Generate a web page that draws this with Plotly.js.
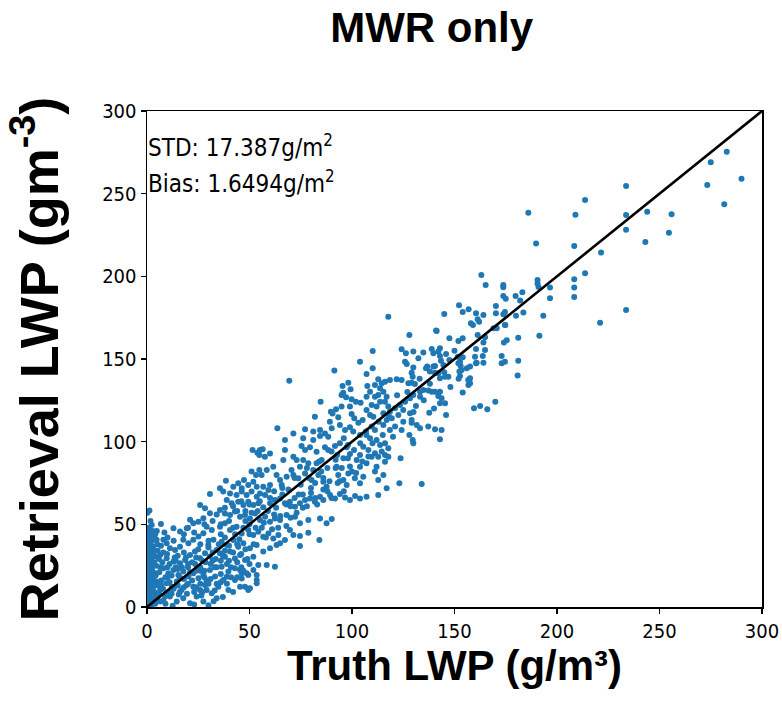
<!DOCTYPE html>
<html>
<head>
<meta charset="utf-8">
<script src="https://cdn.plot.ly/plotly-3.0.1.min.js"></script>
<style>html,body{margin:0;padding:0;background:#fff;}</style>
</head>
<body>
<div id="chart" style="width:782px;height:706px;"></div>
<script>
// Points, grouped by region: [truth LWP, retrieval LWP]
const sparseHigh = [[282.8,275.4],[275,269],[290,259],[273.3,255.3],[281.6,243.6],[233.7,254.7],[213.7,246.2],[186,238.5],[209,237.3],[233.7,237.1],[244,239.1],[255.9,237.5],[233.7,228.1],[254.6,226.3],[243.1,220.8],[208.4,218.4],[189.8,219.8],[221.5,214.4],[213.7,201.9],[208.4,198.3],[208.4,193.2],[208.4,187.5],[233.7,179.7],[221,172],[196.6,193.2],[196.6,186.7],[193.3,176.2],[191.4,164.1],[190.5,197.8],[190.5,195.6],[191,193.6],[183.1,190.4],[179.8,188.1],[182,185.4],[183.6,178.1],[180,176.2],[173.8,194.8],[173.8,193.4],[173.8,188.1],[175,186.4],[170.2,182],[174.6,178.5],[173.8,177],[170.2,177.7],[174.8,170.6],[170.6,168.6],[174.1,160],[175.5,161.3],[181.1,162.9],[163.1,200.8],[165.2,194.8],[181.1,149],[180.8,140]];
const upperBand = [[152.2,182.5],[145,177.2],[154,178.5],[156.9,180.1],[160.5,177.7],[161.3,174],[162,172.6],[158,171.6],[159,170.6],[164.1,176.6],[141,167.2],[147.5,162.5],[151.9,160.9],[154,162.5],[161.3,164.5],[164.1,160],[164.9,163.1],[138.9,156],[142.9,156.5],[160.5,156],[164.9,155.4],[173,151.8],[173,147.4],[174.6,148.4],[160,151.4],[163.8,151.8],[160.5,147.4],[154,151],[152.7,148.4],[156,144.4],[153.5,143.4],[157.6,138.3],[156.8,134.3],[154,129.7],[159.5,120.2],[162.5,121.6],[166,119.6],[169.9,124.2],[117.7,175.6],[128,164.5],[141.3,167],[169,168.6],[174.6,170.6]];
const band110to160 = [[110.1,154.9],[124.2,155.9],[126.3,153.5],[129.9,154.5],[134.8,153.9],[139.7,153.5],[142.1,154.5],[142.9,151.8],[145.9,153],[151.6,151.4],[160.8,147.8],[164.1,147.8],[125.9,148.4],[126.7,147],[132.4,150.5],[129.9,144.8],[136.7,145.4],[139.7,145.4],[143.4,149],[144.6,146.4],[147.5,149.4],[153,145.8],[151.9,147.4],[157.6,145.4],[110.1,144.4],[129.1,141.7],[129.6,139.3],[136.1,144.4],[140.5,145.8],[138,142.4],[140.5,141.7],[142.1,141.4],[142.9,138.3],[145.4,139.3],[147,139.3],[152.4,142.4],[152.7,139.7],[156.7,137.3],[157.6,135.3],[112.8,137.7],[114.5,135.3],[116.1,136.3],[118.5,137.3],[121.8,137.7],[124.2,137.3],[127.5,135.3],[129.1,135.7],[130.7,134.9],[133.2,130.2],[134.8,131.3],[137.2,130.9],[138.9,130.2],[140.5,130.2],[142.9,130.2],[142.1,127.6],[143.7,126.3],[142.9,123.2],[145.4,123.2],[145.9,116.2],[111.2,134.3],[113.7,132.3],[112.8,128.3],[115.3,130.2],[116.9,127.2],[116.1,124.2],[113.7,124.2],[112,121.2],[117.7,121.2],[118.5,118.1],[115.3,117.2],[121,120.2],[123.4,122.2],[125,119.2],[122.6,116.2],[119.4,114.2],[116.9,113.1],[110.4,115.1],[109.6,122.2],[111.2,127.2],[128.3,126.3],[129.9,128.3],[133.2,127.2],[125.9,124.2],[128.3,117.2],[129.1,113.1],[131.2,121.6],[109.6,109.1],[111.2,107.1],[115.3,110.1],[118.5,107.1],[121,109.1],[124.2,107.1],[128,104.1],[129.6,101],[129.9,99],[133.2,108.1],[137.2,109.1],[140.5,107.5],[143.7,107.1],[142.9,101.4],[137.7,117.5],[129.1,111.5],[131.6,110.1],[112,101],[113.7,98],[116.1,99],[117.7,96],[114.5,94],[111.2,93],[109.6,90.9],[112.8,90.9],[116.1,92],[117.7,90.9],[116.1,87.9],[112,84.9],[123.7,90],[111.2,81.9],[115.3,79.9],[112.8,76.8],[116.9,71.8],[112.8,67.8],[123.1,74.8],[134,74.4]];
const band55to110 = [[103.9,148.4],[91.4,143],[69.4,136.9],[107.1,140.9],[98.2,135.7],[95.4,133.7],[99.3,131.7],[95.7,129.6],[107.5,133.7],[108.8,130.2],[94.9,128.2],[97.1,126.8],[99.8,125.6],[101.9,124.2],[104.2,123.6],[107.1,127.2],[84.7,124.2],[89.7,118.1],[92.2,119.6],[94.9,121.2],[90.5,117.1],[93.3,114.7],[99,121.2],[99.8,116.7],[101.1,114.1],[103.1,111.5],[105.2,113.1],[107.1,119.2],[108.8,116.1],[81.9,115.1],[89.2,112.1],[90.1,108.1],[94.1,110.1],[96.6,107.1],[99,108.7],[100.6,106.1],[103.9,104],[106.8,106.1],[108.8,102],[63.6,108.1],[71.4,105],[77.1,107.5],[81.1,106.1],[84.4,107.1],[86.8,105],[67.3,101],[76.2,102],[81.1,101],[84.4,103.4],[88.4,103],[75.4,97.4],[77.1,95],[79.5,96.6],[82.7,93.9],[86.8,96.6],[88.4,95],[91.7,97.4],[94.1,99],[97.4,96.6],[92.8,91.9],[95.8,89.9],[99,92.5],[102.3,88.9],[103.9,91.9],[105.5,97],[108,95],[103.9,84.9],[107.1,86.9],[98.2,80.8],[101.4,77.8],[103.9,74.8],[105.5,78.8],[92.5,84.9],[93.3,79.8],[95.8,76.8],[97.4,73.8],[71.4,90.9],[73,88.9],[74.6,84.9],[76.2,88.9],[78.7,86.9],[81.1,82.9],[82.7,86.9],[85.2,88.9],[70.5,82.9],[71.4,79.8],[73.8,77.8],[77.1,80.8],[80.3,76.8],[83.6,79.8],[86,75.8],[87.6,72.8],[61.6,84.9],[58.4,82.9],[55.9,79.8],[63.2,79.8],[64.9,76.8],[68.1,78.8],[65.7,73.8],[60,73.8],[56.7,72.8],[57.5,90.9],[60,92.9],[55.1,95],[67.3,95],[66.5,88.9]];
const band35to110Low = [[51.5,94.9],[53.8,93.3],[56.4,95.4],[54.8,91.9],[51,81.9],[53.2,79.8],[54.8,82.9],[47.3,76.8],[49.4,73.8],[51.9,75.8],[53.5,72.8],[38.5,76.4],[42.1,72.8],[44.5,74.8],[46.2,71.8],[35.6,71.8],[37.2,69.8],[40.5,68.7],[43.7,67.7],[46.2,69.8],[48.6,67.7],[51,69.8],[53.5,66.7],[55.1,68.7],[57.6,67.7],[59.2,70.8],[38.9,64.7],[41.3,62.7],[44.5,63.7],[47,61.7],[49.4,63.7],[51.9,61.7],[54.3,62.7],[56.7,60.3],[60,62.7],[62.4,64.7],[64.9,65.7],[67.3,62.7],[69.7,63.7],[72.2,60.7],[74.6,62.7],[77.1,64.7],[79.5,65.7],[81.9,63.7],[84.4,66.7],[86,64.7],[89.3,67.7],[91.7,65.7],[94.1,68.4],[96.6,66.3],[99,64.7],[101.5,67.1],[103.9,65.7],[107.1,66.7],[35.6,58.7],[38,56.6],[40.5,55.6],[42.9,57.7],[45.4,54.6],[47.8,55.6],[50.2,53.6],[52.7,56.6],[55.1,52.6],[57.6,54.6],[60,51.6],[62.4,53.6],[64.9,52.6],[68.1,55.6],[72.2,54.6],[74.6,50.6],[78.7,52.6],[84.4,53.6],[87.6,50.6],[90.1,53.2],[35.6,48.6],[38,50.6],[40.5,46.6],[43.7,48.6],[46.2,44.5],[49.4,46.6],[51.9,43.5],[54.3,45.5],[56.7,42.5],[59.2,44.5],[61.6,41.5],[64.1,43.5],[67.3,40.5],[69.7,46.6],[71.4,43.5],[74.6,42.9],[78.7,44.9],[84.1,40.5],[36.4,39.5],[38.9,37.5],[42.1,40.5],[44.5,36.5],[47,38.5],[50.2,35.5],[53.5,37.5],[56.7,33.5],[60,35.5],[63.2,37.5],[64.9,38.5],[74.6,36.9],[35.6,32.5],[38,30.4],[40.5,33.5],[42.9,29.4],[45.4,31.5],[47.8,28.4],[51.9,30.4],[54.3,25.4],[58.4,25.4],[62.4,24.4],[36.4,24.4],[39.7,21.4],[42.9,23.4],[46.2,20.4],[49.4,19.4],[53.5,19.4],[37.2,16.3],[38.9,18.3],[42.9,16.3],[46.2,17.3],[47.8,12.3],[50.2,11.3],[53.5,14.3]];
const band0to35 = [[30.7,68.4],[1.2,58.3],[25.9,61.7],[28.3,59.7],[30.7,56.7],[27.5,53.7],[25.1,51.6],[21,52.7],[22.6,50.6],[19.4,47.6],[16.1,45.6],[12.9,47.6],[9.6,38.5],[6.8,50.2],[8,40.6],[29.1,48.6],[31.6,46.6],[27.5,44.6],[25.1,42.6],[22.6,40.6],[20.2,38.5],[17.7,40.6],[16.1,36.5],[13.7,34.5],[11.2,35.5],[32.4,40.6],[29.9,37.5],[34,34.5],[28.3,32.5],[30.7,30.5],[25.9,29.5],[23.4,33.5],[21,31.5],[18.6,28.5],[16.1,26.4],[12.9,27.5],[9.6,29.5],[6.4,31.5],[3.9,30.5],[1.5,32.5],[0.7,42.6],[1.5,38.5],[3.1,36.5],[4.7,40.6],[0.7,46.6],[2.3,49.6],[0.7,26.4],[2.3,23.4],[3.9,20.4],[1.5,18.4],[0.7,14.4],[3.1,12.3],[4.7,15.4],[6.4,10.3],[1.5,8.3],[0.7,4.3],[3.9,6.3],[6.4,3.3],[2.3,1.2],[8.8,6.3],[8,23.4],[10.4,20.4],[12.9,22.4],[15.3,19.4],[17.7,21.4],[20.2,18.4],[22.6,20.4],[25.1,17.4],[27.5,19.4],[30.7,22.4],[33.2,18.4],[9.6,14.4],[12.1,12.3],[14.5,15.4],[16.9,10.3],[19.4,13.3],[22.6,12.3],[25.9,10.3],[28.3,13.3],[31.6,8.3],[34.8,12.3],[11.2,6.3],[14.5,3.3],[17.7,5.3],[21,2.3],[24.2,6.3],[27.5,3.3],[29.1,10.3],[34,5.3],[39.7,10.3],[45.4,12.3],[49.4,10.3],[53.5,16.4],[45.4,22.4],[48.6,20.4],[51.9,22.4]];
const nearOrigin = [[0.3,2],[0.5,6],[1,10],[0.4,12],[1.8,16],[0.6,20],[2.5,22],[1.2,24],[0.3,28],[2,29],[1,31],[0.5,35],[2.8,34],[1.4,37],[0.8,40],[2.2,43],[0.5,44],[3.5,27],[4.5,25],[2.9,17],[3.6,9],[5,5],[5.5,13],[4.2,19],[7,16],[6,21],[7.5,27],[5.2,34],[6.8,37],[8.5,45],[4.8,46],[1.7,52],[0.2,57],[0.2,0.5],[1.5,3],[2.6,5],[0.9,7],[2,11],[3,14],[0.3,17],[1.6,21],[3.2,19],[0.4,23],[2.1,26],[1.1,29],[3,32],[0.2,33],[1.9,35],[0.6,38],[2.5,40],[1.2,45],[3.4,42],[0.9,48],[2.8,46],[4,44],[5.8,29],[6.5,24],[7.8,11],[9,2],[10.5,9],[12.5,0.8],[15.5,7.5],[19.5,8],[23,1.5],[26.5,7],[30,1],[32.5,3.5],[37,6],[42,9],[9.8,32],[11,26],[13.5,30],[15,23],[18,33],[20,24],[23.5,26],[26,24],[28.5,27],[31,26],[33.5,29],[36,28]];
const coreBand = [[10,18],[12,8],[14,24],[16,18],[18,12],[20,26],[22,16],[24,30],[26,22],[28,18],[30,36],[32,28],[34,24],[36,44],[38,34],[40,28],[42,48],[44,38],[46,32],[48,52],[50,44],[52,38],[54,58],[56,48],[58,42],[60,66],[62,56],[64,48],[66,72],[68,62],[70,54],[72,78],[74,68],[76,60],[78,84],[80,72],[82,66],[84,88],[86,78],[88,70],[90,94],[92,84],[94,76],[96,102],[98,90],[100,82]];
const lowDense = [[4,2],[6,8],[8,4],[7,13],[9,18],[11,15],[10,24],[12,19],[13,11],[14,28],[15,13],[16,9],[17,24],[18,17],[19,30],[20,14],[21,21],[22,27],[23,9],[24,22],[25,35],[26,14],[27,28],[28,22],[29,16],[30,40],[31,17],[32,33],[33,24],[34,14],[35,38],[36,20],[37,31],[38,42],[39,26],[40,37],[41,18],[42,33],[43,44],[44,27],[45,41],[46,24],[47,48],[48,35],[49,29],[50,50],[5,38],[8,33],[10,42],[13,40],[15,31],[18,44],[20,48],[23,45],[26,38],[28,50],[32,52],[34,56],[36,50],[38,60],[40,52],[42,61],[44,58],[46,64],[48,58],[50,62],[24,12],[27,9],[30,14],[33,10],[36,15],[39,14],[41,24],[44,18],[47,22],[50,26]];
const midDense = [[51,57],[53,48],[55,64],[57,51],[59,58],[61,47],[62,70],[63,60],[65,55],[66,68],[68,49],[69,71],[70,61],[72,66],[73,57],[75,74],[76,68],[78,61],[79,78],[80,69],[82,75],[83,62],[85,82],[86,71],[88,84],[89,76],[90,66],[92,89],[93,75],[95,84],[96,70],[98,98],[99,85],[101,95],[102,81],[104,99],[105,88],[107,104],[108,91],[110,99],[113,112],[115,104],[118,115],[120,103],[122,128],[125,112],[127,130],[130,118],[133,138],[135,125],[138,135],[140,120],[145,142],[148,133],[150,155],[152,138]];

const oneToOneX = [0, 300];
const oneToOneY = [0, 300];
const xTicks = [0, 50, 100, 150, 200, 250, 300];
const yTicks = [0, 50, 100, 150, 200, 250, 300];
const statLines = ['STD: 17.387g/m<sup>2</sup>', 'Bias: 1.6494g/m<sup>2</sup>'];
const statY = [279, 257];

const allPts = [].concat(sparseHigh, upperBand, band110to160, band55to110, band35to110Low, band0to35, nearOrigin, coreBand, lowDense, midDense);
const truthLWP = allPts.map(p => p[0]);
const retrievalLWP = allPts.map(p => p[1]);

const traces = [
  {type:'scatter', mode:'markers', x: truthLWP, y: retrievalLWP,
   marker:{color:'#1f77b4', size:6, line:{width:0}}, hoverinfo:'x+y', showlegend:false},
  {type:'scatter', mode:'lines', x: oneToOneX, y: oneToOneY,
   line:{color:'black', width:2.6}, showlegend:false, hoverinfo:'skip'}
];

const condFont = 'DejaVu Sans Condensed, DejaVu Sans, sans-serif';
const tickFont = {family:condFont, size:20, color:'black'};
const boldFont = (s) => ({family:'Liberation Sans, Arial, sans-serif', size:s, color:'black', weight:'bold'});

const layout = {
  width:782, height:706,
  margin:{l:147, r:20, t:111, b:99, pad:0},
  paper_bgcolor:'white', plot_bgcolor:'white',
  showlegend:false,
  title:{text:'MWR only', font:boldFont(42), xref:'container', x:0.552, xanchor:'center', yref:'container', y:0.962, yanchor:'middle'},
  xaxis:{range:[0,300], tickvals:xTicks, ticktext:xTicks.map(String), ticks:'outside', ticklen:5, tickwidth:1.2, tickcolor:'black',
    showline:true, linecolor:'black', linewidth:1.5, mirror:true, showgrid:false, zeroline:false, tickfont:tickFont,
    title:{text:'Truth LWP (g/m³)', font:boldFont(42), standoff:4}},
  yaxis:{range:[0,300], tickvals:yTicks, ticktext:yTicks.map(String), ticks:'outside', ticklen:5, tickwidth:1.2, tickcolor:'black',
    showline:true, linecolor:'black', linewidth:1.5, mirror:true, showgrid:false, zeroline:false, tickfont:tickFont,
    title:{text:'Retrieval LWP (gm<sup>-3</sup>)', font:boldFont(54), standoff:26}},
  annotations: statLines.map((t,i) => ({text:t, xref:'x', yref:'y', x:0, y:statY[i], xanchor:'left', yanchor:'middle',
    showarrow:false, font:{family:condFont, size:24, color:'black'}, borderpad:0}))
};

Plotly.newPlot('chart', traces, layout, {displayModeBar:false, staticPlot:true});
</script>
</body>
</html>
